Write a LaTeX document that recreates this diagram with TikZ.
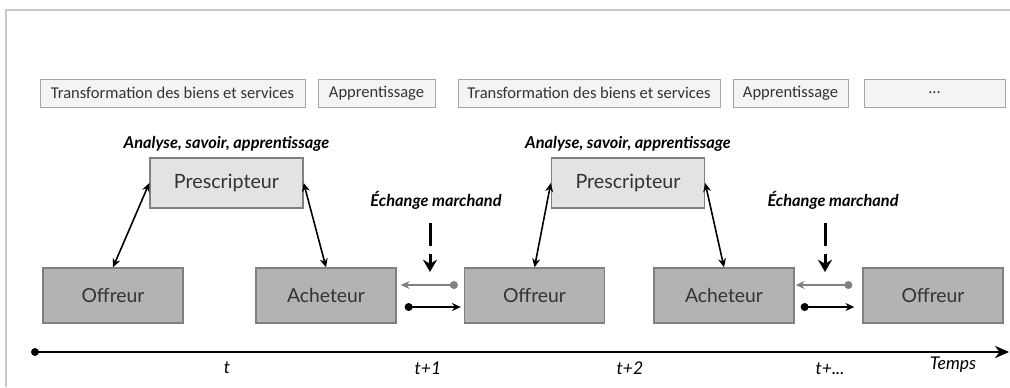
\documentclass[tikz,border=0pt]{standalone}
\usepackage{fontspec}
\setmainfont{Lato}
\newfontfamily\calibri{Carlito}
\usetikzlibrary{calc, arrows.meta, positioning}

\definecolor{framegray}{HTML}{C8C8C8}
\definecolor{phasefill}{HTML}{F4F4F4}
\definecolor{phasedraw}{HTML}{A6A6A6}
\definecolor{prescfill}{HTML}{E3E3E3}
\definecolor{actorfill}{HTML}{B3B3B3}
\definecolor{actordraw}{HTML}{808080}
\definecolor{textgray}{HTML}{333333}

\begin{document}
\begin{tikzpicture}[
    x=0.02cm, y=-0.02cm,
    phase/.style={
        rectangle, draw=phasedraw, fill=phasefill, line width=0.5pt,
        minimum height=0.56cm, inner sep=0pt,
        font=\calibri\fontsize{9.4}{11}\selectfont, text=textgray
    },
    presc/.style={
        rectangle, draw=actordraw, fill=prescfill, line width=0.8pt,
        minimum width=3.06cm, minimum height=1.0cm,
        font=\fontsize{11.2}{13}\selectfont, text=textgray
    },
    actor/.style={
        rectangle, draw=actordraw, fill=actorfill, line width=0.8pt,
        minimum width=2.8cm, minimum height=1.1cm,
        font=\fontsize{11}{13}\selectfont, text=textgray
    },
    theme/.style={font=\bfseries\itshape\fontsize{9.3}{11}\selectfont},
    tlabel/.style={font=\itshape\fontsize{10}{12}\selectfont},
    link/.style={{Stealth[length=5pt,width=4.5pt]}-{Stealth[length=5pt,width=4.5pt]}, line width=0.9pt},
    trade/.style={{Circle[length=4.5pt]}-{Stealth[length=5pt,width=4.5pt]}, line width=0.9pt},
    drop/.style={-{Stealth[length=7pt,width=8pt]}, line width=1.7pt,
        dash pattern=on 0.46cm off 0.16cm, shorten <=0.16cm},
    timeline/.style={-{Stealth[length=8pt,width=7pt]}, line width=1.6pt}
]

    % --- FRAME ---
    \useasboundingbox (0,0) rectangle (1010,387);
    \draw[framegray, line width=0.8pt] (6,387) -- (6,10) -- (1010,10);

    % --- PHASES ---
    \node[phase, minimum width=5.3cm]  (ph1) at (172.5,93) {Transformation des biens et services};
    \node[phase, minimum width=2.34cm] (ph2) at (376.5,93) {Apprentissage};
    \node[phase, minimum width=5.24cm] (ph3) at (589,93)   {Transformation des biens et services};
    \node[phase, minimum width=2.3cm]  (ph4) at (790.5,93) {Apprentissage};
    \node[phase, minimum width=2.82cm] (ph5) at (934.5,93) {...};

    % --- ACTORS ---
    \node[presc] (pre1) at (226.5,183) {Prescripteur};
    \node[presc] (pre2) at (628,183)   {Prescripteur};
    \node[theme, above=0pt of pre1] (ana1) {Analyse, savoir, apprentissage};
    \node[theme, above=0pt of pre2] (ana2) {Analyse, savoir, apprentissage};

    \node[actor] (off1) at (113,295.5) {Offreur};
    \node[actor] (ach1) at (326,295.5) {Acheteur};
    \node[actor] (off2) at (534.5,295.5) {Offreur};
    \node[actor] (ach2) at (724,295.5) {Acheteur};
    \node[actor] (off3) at (933,295.5) {Offreur};

    % --- EXCHANGES ---
    \node[theme] (ech1) at (436,200) {Échange marchand};
    \node[theme] (ech2) at (833,200) {Échange marchand};
    \coordinate (drop1) at (430,272);
    \coordinate (drop2) at (825,272);

    % --- TIME AXIS ---
    \node[circle, fill=black, inner sep=0pt, minimum size=0.16cm] (t0) at (35,352) {};
    \coordinate (tend) at (1009,352);
    \node[tlabel] (lt)  at (227,368) {t};
    \node[tlabel] (lt1) at (428,368) {t+1};
    \node[tlabel] (lt2) at (630,368) {t+2};
    \node[tlabel] (lt3) at (830,369) {t+...};
    \node[tlabel] (ltemps) at (953,365) {Temps};

    % --- CONNECTING ARROWS ---
    \draw[link] (off1.north) -- (pre1.west);
    \draw[link] (ach1.north) -- (pre1.east);
    \draw[link] (off2.north) -- (pre2.west);
    \draw[link] (ach2.north) -- (pre2.east);

    \draw[drop] (ech1.south -| drop1) -- (drop1);
    \draw[drop] (ech2.south -| drop2) -- (drop2);

    \draw[trade, gray] ($(off2.west)+(-6,-10.5)$) -- ($(ach1.east)+(4,-10.5)$);
    \draw[trade] ($(ach1.east)+(8,11.5)$) -- ($(off2.west)+(-3,11.5)$);
    \draw[trade, gray] ($(off3.west)+(-10,-10.5)$) -- ($(ach2.east)+(1,-10.5)$);
    \draw[trade] ($(ach2.east)+(6,11.5)$) -- ($(off3.west)+(-8,11.5)$);

    \draw[timeline] (t0.center) -- (tend);

\end{tikzpicture}
\end{document}
